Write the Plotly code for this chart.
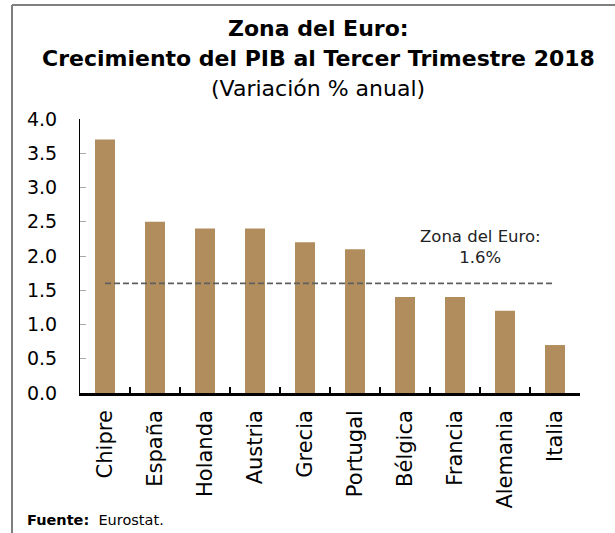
import plotly.graph_objects as go

countries = ["Chipre", "España", "Holanda", "Austria", "Grecia", "Portugal",
             "Bélgica", "Francia", "Alemania", "Italia"]
growth = [3.7, 2.5, 2.4, 2.4, 2.2, 2.1, 1.4, 1.4, 1.2, 0.7]
euro_zone = 1.6
y_ticks = [0, 0.5, 1.0, 1.5, 2.0, 2.5, 3.0, 3.5, 4.0]
y_tick_labels = ["0.0", "0.5", "1.0", "1.5", "2.0", "2.5", "3.0", "3.5", "4.0"]

FONT = "DejaVu Sans"
BAR = "#B18C5C"

fig = go.Figure()
fig.add_trace(go.Bar(x=countries, y=growth, marker_color=BAR,
                     marker_line_width=0, width=0.4, hoverinfo="x+y"))
fig.add_trace(go.Scatter(x=countries, y=[euro_zone] * len(countries), mode="lines",
                         line=dict(color="#5f5f5f", width=1.8, dash="6px,3px"),
                         hoverinfo="skip"))

fig.add_annotation(x=7.5, y=euro_zone, xref="x", yref="y", yshift=36,
                   text="Zona del Euro:<br>1.6%", showarrow=False,
                   font=dict(family=FONT, size=16.5, color="#222"), align="center")

for txt, shift in [("<b>Zona del Euro:</b>", 91),
                   ("<b>Crecimiento del PIB al Tercer Trimestre 2018</b>", 61),
                   ("(Variación % anual)", 31)]:
    fig.add_annotation(x=0.476, y=1.0, xref="paper", yref="paper", yshift=shift,
                       text=txt, showarrow=False, yanchor="middle",
                       font=dict(family=FONT, size=22, color="#000"))

fig.add_annotation(x=-0.11, y=0, xref="paper", yref="paper", yshift=-127,
                   xanchor="left", yanchor="middle",
                   text="<b>Fuente:</b>  Eurostat.", showarrow=False,
                   font=dict(family=FONT, size=14.5, color="#000"))

# frame lines
fig.add_shape(type="line", xref="paper", yref="paper", x0=-0.136, x1=-0.136,
              y0=1.416, y1=-0.6, line=dict(color="#7f7f7f", width=2))
fig.add_shape(type="line", xref="paper", yref="paper", x0=-0.136, x1=1.2,
              y0=1.416, y1=1.416, line=dict(color="#7f7f7f", width=2))

fig.update_layout(
    width=615, height=533,
    margin=dict(l=80, r=35, t=119, b=140),
    paper_bgcolor="white", plot_bgcolor="white",
    showlegend=False, bargap=0.6,
    font=dict(family=FONT, color="#000"),
)
fig.update_xaxes(
    type="category", tickangle=-90, tickfont=dict(size=21, family=FONT),
    showline=True, linecolor="#000", linewidth=2.5,
    ticks="inside", tickson="boundaries", ticklen=6, tickcolor="#000", tickwidth=2,
    showgrid=False, range=[-0.5, 9.5], ticklabelstandoff=6,
)
fig.update_yaxes(
    range=[0, 4.0], tickvals=y_ticks, ticktext=y_tick_labels,
    tickfont=dict(size=19, family=FONT), showline=True, linecolor="#000", linewidth=1,
    ticks="inside", ticklen=6, tickcolor="#aaa", tickwidth=1,
    showgrid=False, zeroline=False, ticklabelstandoff=18,
)

fig.write_html("out.html", config={"displayModeBar": False},
               post_script="document.body.style.margin='0';document.body.style.overflow='hidden';")
